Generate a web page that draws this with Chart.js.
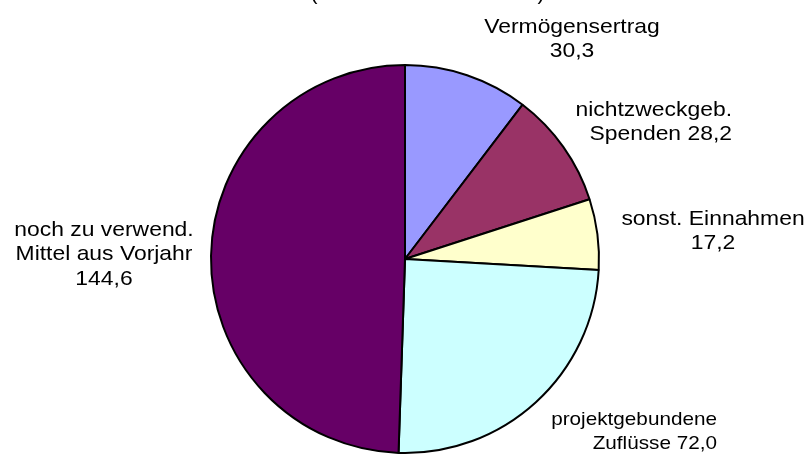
<!DOCTYPE html>
<html>
<head>
<meta charset="utf-8">
<script src="https://cdn.jsdelivr.net/npm/chart.js@4/dist/chart.umd.min.js"></script>
<style>
  html, body { margin: 0; padding: 0; background: #ffffff; }
  #wrap { width: 805px; height: 457px; position: relative; }
</style>
</head>
<body>
<div id="wrap"><canvas id="c" width="805" height="457"></canvas></div>
<script>
// ---- data ----
const categories = [
  "Vermögensertrag",
  "nichtzweckgeb. Spenden",
  "sonst. Einnahmen",
  "projektgebundene Zuflüsse",
  "noch zu verwend. Mittel aus Vorjahr"
];
// label lines as shown on the chart (value appended to the last line)
const labelLines = [
  ["Vermögensertrag", ""],
  ["nichtzweckgeb.", "Spenden "],
  ["sonst. Einnahmen", ""],
  ["projektgebundene", "Zuflüsse "],
  ["noch zu verwend.", "Mittel aus Vorjahr", ""]
];
const values = [30.3, 28.2, 17.2, 72.0, 144.6];
const colors = ["#9999FF", "#993366", "#FFFFCC", "#CCFFFF", "#660066"];

// ---- label layout (text placement only) ----
const labelPlacement = [
  { x: 572, y: 27, align: "center", size: 21, lh: 24.5 },
  { x: 732, y: 110, align: "right", size: 21, lh: 24.5 },
  { x: 713, y: 219, align: "center", size: 21, lh: 24.5 },
  { x: 717, y: 420, align: "right", size: 19, lh: 24 },
  { x: 104, y: 230, align: "center", size: 21, lh: 24.5 }
];
const textStretch = 1.09;

function fmt(v) { return v.toFixed(1).replace(".", ","); }

const labelPlugin = {
  id: "sliceLabels",
  afterDraw(chart) {
    const ctx = chart.ctx;
    ctx.save();
    ctx.fillStyle = "#000000";
    ctx.textBaseline = "middle";
    // cut-off title (only the parentheses' descenders are visible)
    ctx.font = "21px 'Liberation Sans', Arial, sans-serif";
    ctx.textAlign = "center";
    ctx.fillText("(", 314, -6);
    ctx.fillText(")", 541, -6);
    labelLines.forEach((lines, i) => {
      const p = labelPlacement[i];
      ctx.font = p.size + "px 'Liberation Sans', Arial, sans-serif";
      ctx.textAlign = p.align;
      lines.forEach((ln, j) => {
        let t = ln;
        if (j === lines.length - 1) t = ln + fmt(chart.data.datasets[0].data[i]);
        ctx.save();
        ctx.translate(p.x, p.y + j * p.lh);
        ctx.scale(textStretch, 1);
        ctx.fillText(t, 0, 0);
        ctx.restore();
      });
    });
    ctx.restore();
  }
};

new Chart(document.getElementById("c"), {
  type: "pie",
  data: {
    labels: categories,
    datasets: [{
      data: values,
      backgroundColor: colors,
      borderColor: "#000000",
      borderWidth: 2,
      borderAlign: "center"
    }]
  },
  options: {
    responsive: false,
    animation: false,
    rotation: 0,
    layout: { padding: { top: 64, bottom: 3, left: 210, right: 205 } },
    plugins: {
      legend: { display: false },
      tooltip: { enabled: false },
      title: { display: false }
    }
  },
  plugins: [labelPlugin]
});
</script>
</body>
</html>
